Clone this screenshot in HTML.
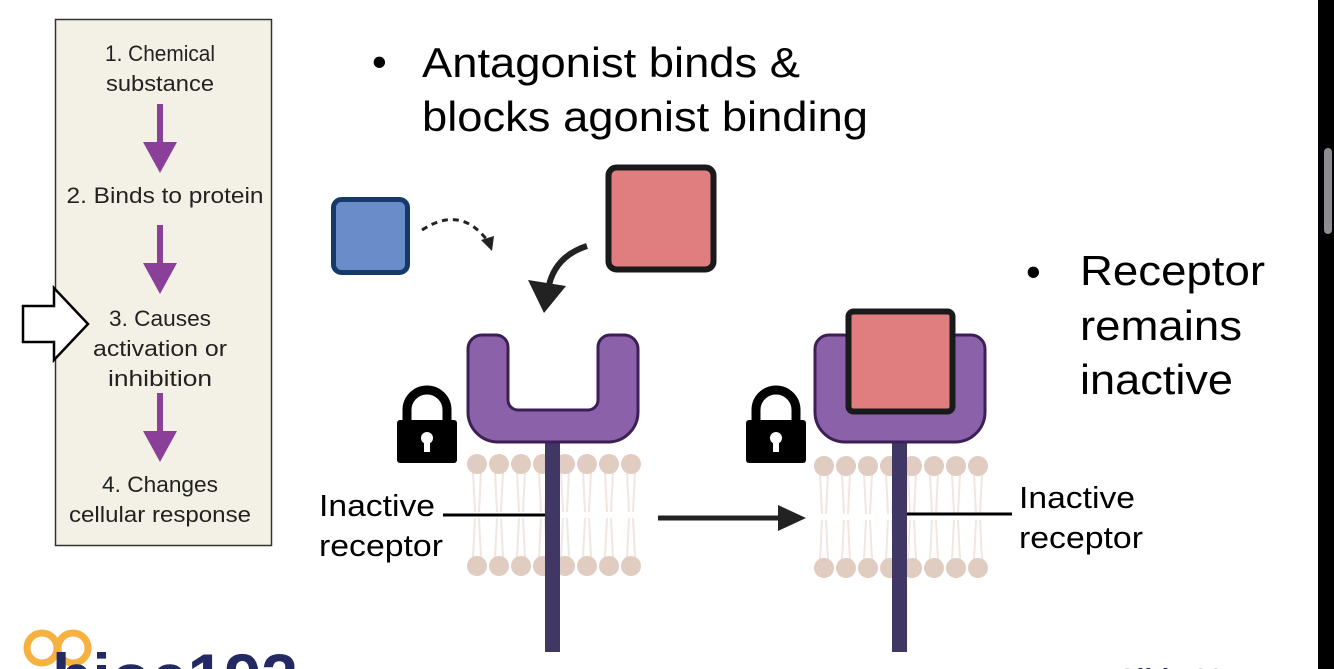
<!DOCTYPE html>
<html><head><meta charset="utf-8"><style>
html,body{margin:0;padding:0;background:#fff;width:1334px;height:669px;overflow:hidden}
svg{display:block;overflow:hidden}
text{font-family:"Liberation Sans",sans-serif}
</style></head><body>
<svg width="1334" height="669" viewBox="0 0 1334 669" xmlns="http://www.w3.org/2000/svg">
<defs>
<clipPath id="clip"><rect x="0" y="0" width="1334" height="669"/></clipPath>
<g id="lock">
<path d="M10 30 V20 A20 20 0 0 1 50 20 V30" fill="none" stroke="#000" stroke-width="9"/>
<rect x="0" y="30" width="60" height="43" rx="3" fill="#000"/>
<circle cx="30" cy="48" r="6" fill="#fff"/>
<rect x="27" y="50" width="6" height="12" fill="#fff"/>
</g>
<g id="mem">
<g stroke="#f1e6e0" stroke-width="2" fill="none">
<path d="M-4 8 L-2 48 M4 8 L2 48 M18 8 L20 48 M26 8 L24 48 M40 8 L42 48 M48 8 L46 48 M62 8 L64 48 M70 8 L68 48 M84 8 L86 48 M92 8 L90 48 M106 8 L108 48 M114 8 L112 48 M128 8 L130 48 M136 8 L134 48 M150 8 L152 48 M158 8 L156 48"/>
<path d="M-4 94 L-2 54 M4 94 L2 54 M18 94 L20 54 M26 94 L24 54 M40 94 L42 54 M48 94 L46 54 M62 94 L64 54 M70 94 L68 54 M84 94 L86 54 M92 94 L90 54 M106 94 L108 54 M114 94 L112 54 M128 94 L130 54 M136 94 L134 54 M150 94 L152 54 M158 94 L156 54"/>
</g>
<g fill="#e0ccc0">
<circle cx="0" cy="0" r="10"/><circle cx="22" cy="0" r="10"/><circle cx="44" cy="0" r="10"/><circle cx="66" cy="0" r="10"/><circle cx="88" cy="0" r="10"/><circle cx="110" cy="0" r="10"/><circle cx="132" cy="0" r="10"/><circle cx="154" cy="0" r="10"/>
<circle cx="0" cy="102" r="10"/><circle cx="22" cy="102" r="10"/><circle cx="44" cy="102" r="10"/><circle cx="66" cy="102" r="10"/><circle cx="88" cy="102" r="10"/><circle cx="110" cy="102" r="10"/><circle cx="132" cy="102" r="10"/><circle cx="154" cy="102" r="10"/>
</g>
</g>
<path id="u" d="M14 0 H28 A12 12 0 0 1 40 12 V65 A10 10 0 0 0 50 75 H120 A10 10 0 0 0 130 65 V12 A12 12 0 0 1 142 0 H156 A14 14 0 0 1 170 14 V77 A30 30 0 0 1 140 107 H30 A30 30 0 0 1 0 77 V14 A14 14 0 0 1 14 0 Z" fill="#8b62aa" stroke="#3d1f55" stroke-width="3"/>
</defs>
<g clip-path="url(#clip)">
<rect x="1318" y="0" width="16" height="669" fill="#000"/>
<rect x="1324" y="148" width="8" height="86" rx="4" fill="#8e8c93"/>

<rect x="55.5" y="19.5" width="216" height="526" fill="#f3f1e6" stroke="#333" stroke-width="1.5"/>
<g font-size="22" text-anchor="middle" fill="#222" lengthAdjust="spacingAndGlyphs">
<text x="160" y="61" textLength="110" lengthAdjust="spacingAndGlyphs">1. Chemical</text>
<text x="160" y="91" textLength="108" lengthAdjust="spacingAndGlyphs">substance</text>
<text x="165" y="203" textLength="197" lengthAdjust="spacingAndGlyphs">2. Binds to protein</text>
<text x="160" y="326" textLength="102" lengthAdjust="spacingAndGlyphs">3. Causes</text>
<text x="160" y="356" textLength="134" lengthAdjust="spacingAndGlyphs">activation or</text>
<text x="160" y="386" textLength="104" lengthAdjust="spacingAndGlyphs">inhibition</text>
<text x="160" y="492" textLength="116" lengthAdjust="spacingAndGlyphs">4. Changes</text>
<text x="160" y="522" textLength="182" lengthAdjust="spacingAndGlyphs">cellular response</text>
</g>
<g fill="#8a3f98">
<rect x="157" y="104" width="6" height="40"/><polygon points="143,142 177,142 160,173"/>
<rect x="157" y="225" width="6" height="40"/><polygon points="143,263 177,263 160,294"/>
<rect x="157" y="393" width="6" height="40"/><polygon points="143,431 177,431 160,462"/>
</g>
<polygon points="23,306 54,306 54,288 88,324 54,360 54,342 23,342" fill="#fff" stroke="#000" stroke-width="2.5"/>

<g font-size="42" fill="#000">
<text x="372" y="76">•</text>
<text x="422" y="77" textLength="378" lengthAdjust="spacingAndGlyphs">Antagonist binds &amp;</text>
<text x="422" y="131" textLength="446" lengthAdjust="spacingAndGlyphs">blocks agonist binding</text>
<text x="1026" y="286">•</text>
<text x="1080" y="285" textLength="185" lengthAdjust="spacingAndGlyphs">Receptor</text>
<text x="1080" y="340" textLength="162" lengthAdjust="spacingAndGlyphs">remains</text>
<text x="1080" y="394" textLength="153" lengthAdjust="spacingAndGlyphs">inactive</text>
</g>

<rect x="333.5" y="199.5" width="74" height="73" rx="8" fill="#6a8cc8" stroke="#153a6a" stroke-width="5"/>
<rect x="608.5" y="167.5" width="105" height="102" rx="8" fill="#e07e7f" stroke="#1a1a1a" stroke-width="6"/>
<path d="M422 230 Q460 205 487 240" fill="none" stroke="#222" stroke-width="3" stroke-dasharray="6,5"/>
<polygon points="481,240 494,236 492,251" fill="#222"/>
<path d="M587 246 Q556 256 549 285" fill="none" stroke="#222" stroke-width="6"/>
<polygon points="528,280 566,286 544,313" fill="#222"/>

<use href="#mem" x="477" y="464"/>
<rect x="545" y="440" width="15" height="212" fill="#413765"/>
<use href="#u" x="468" y="335"/>
<use href="#lock" x="397" y="390"/>
<g font-size="31" fill="#000"><text x="319" y="516" textLength="116" lengthAdjust="spacingAndGlyphs">Inactive</text><text x="319" y="556" textLength="124" lengthAdjust="spacingAndGlyphs">receptor</text></g>
<line x1="443" y1="515" x2="545" y2="515" stroke="#000" stroke-width="3"/>

<line x1="658" y1="518" x2="782" y2="518" stroke="#222" stroke-width="5"/>
<polygon points="778,505 806,518 778,531" fill="#222"/>

<use href="#mem" x="824" y="466"/>
<rect x="892" y="440" width="15" height="212" fill="#413765"/>
<use href="#u" x="815" y="335"/>
<rect x="848.5" y="311.5" width="104" height="100" rx="5" fill="#e07e7f" stroke="#1a1a1a" stroke-width="6"/>
<use href="#lock" x="746" y="390"/>
<g font-size="31" fill="#000"><text x="1019" y="508" textLength="116" lengthAdjust="spacingAndGlyphs">Inactive</text><text x="1019" y="548" textLength="124" lengthAdjust="spacingAndGlyphs">receptor</text></g>
<line x1="907" y1="514" x2="1012" y2="514" stroke="#000" stroke-width="3"/>

<g fill="none" stroke="#f7b141" stroke-width="7">
<circle cx="42" cy="648" r="15"/><circle cx="73" cy="648" r="15"/>
</g>
<text x="52" y="700" font-size="66" font-weight="bold" fill="#232a63">bioe192</text>
<text x="1118" y="688" font-size="28" font-weight="bold" fill="#232a63">Slide 23</text>
</g>
</svg>
</body></html>
